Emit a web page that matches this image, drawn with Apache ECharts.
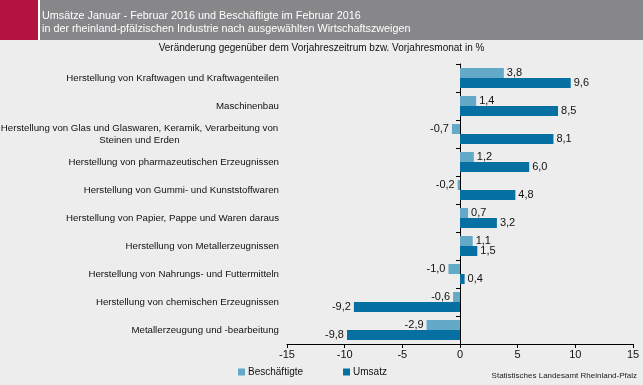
<!DOCTYPE html>
<html>
<head>
<meta charset="utf-8">
<script src="https://cdn.jsdelivr.net/npm/echarts@6/dist/echarts.min.js"></script>
<style>html,body{margin:0;padding:0;background:#ecedec;}#c{width:643px;height:385px;}</style>
</head>
<body>
<div id="c"></div>
<script>
const categories = [
  'Herstellung von Kraftwagen und Kraftwagenteilen',
  'Maschinenbau',
  'Herstellung von Glas und Glaswaren, Keramik, Verarbeitung von\nSteinen und Erden',
  'Herstellung von pharmazeutischen Erzeugnissen',
  'Herstellung von Gummi- und Kunststoffwaren',
  'Herstellung von Papier, Pappe und Waren daraus',
  'Herstellung von Metallerzeugnissen',
  'Herstellung von Nahrungs- und Futtermitteln',
  'Herstellung von chemischen Erzeugnissen',
  'Metallerzeugung und -bearbeitung'
];
const beschaeftigte = [3.8, 1.4, -0.7, 1.2, -0.2, 0.7, 1.1, -1.0, -0.6, -2.9];
const umsatz = [9.6, 8.5, 8.1, 6.0, 4.8, 3.2, 1.5, 0.4, -9.2, -9.8];
const xTicks = [-15, -10, -5, 0, 5, 10, 15];

const FONT = '"Liberation Sans", Arial, sans-serif';
const fmt = v => v.toFixed(1).replace('.', ',');
const toItems = arr => arr.map(v => ({ value: v, label: { position: v < 0 ? 'left' : 'right' } }));

const chart = echarts.init(document.getElementById('c'));
chart.setOption({
  backgroundColor: '#ecedec',
  animation: false,
  textStyle: { fontFamily: FONT },
  graphic: [
    { type: 'rect', shape: { x: 0, y: 0, width: 643, height: 40 }, style: { fill: '#878789' } },
    { type: 'rect', shape: { x: 0, y: 0, width: 38, height: 40 }, style: { fill: '#b5133f' } },
    { type: 'rect', shape: { x: 38, y: 0, width: 2, height: 40 }, style: { fill: '#ffffff' } },
    { type: 'text', left: 42, top: 10, style: { text: 'Umsätze Januar - Februar 2016 und Beschäftigte im Februar 2016\nin der rheinland-pfälzischen Industrie nach ausgewählten Wirtschaftszweigen', fill: '#ffffff', font: '10.8px ' + FONT, lineHeight: 13 } },
    { type: 'text', left: 'center', top: 43, style: { text: 'Veränderung gegenüber dem Vorjahreszeitrum bzw. Vorjahresmonat in %', fill: '#111', font: '10px ' + FONT } },
    { type: 'text', right: 6, top: 372, style: { text: 'Statistisches Landesamt Rheinland-Pfalz', fill: '#222', font: '8px ' + FONT } }
  ],
  legend: {
    left: 233, top: 362,
    itemWidth: 7, itemHeight: 7, itemGap: 40,
    icon: 'rect',
    textStyle: { fontSize: 10, color: '#111', padding: [0, 0, 0, -2] },
    data: ['Beschäftigte', 'Umsatz']
  },
  grid: { left: 287, right: 10, top: 64, bottom: 41, containLabel: false, outerBoundsMode: 'none' },
  xAxis: {
    type: 'value', min: -15, max: 15, interval: 5,
    axisLine: { show: true, onZero: false, lineStyle: { color: '#000', width: 1 } },
    axisTick: { show: true, length: 4, lineStyle: { color: '#000' } },
    axisLabel: { color: '#111', fontSize: 11, margin: 5, formatter: v => xTicks.includes(v) ? String(v) : '' },
    splitLine: { show: false }
  },
  yAxis: [
    {
      type: 'category', inverse: true, data: categories,
      axisLine: { show: true, onZero: true, lineStyle: { color: '#000', width: 1 } },
      axisTick: { show: true, length: 4, lineStyle: { color: '#000' } },
      axisLabel: {
        color: '#111', fontSize: 9.7, margin: 8, lineHeight: 12,
        formatter: v => v.indexOf('\n') >= 0 ? v.split('\n').map(s => '{g|' + s + '}').join('\n') : v,
        rich: { g: { width: 279, align: 'center', fontSize: 9.7, lineHeight: 12, color: '#111' } }
      },
      splitLine: { show: false }
    },
    {
      type: 'category', inverse: true, data: categories,
      axisLine: { show: false, onZero: true, onZeroAxisIndex: 0 },
      axisTick: { show: true, inside: true, length: 4, lineStyle: { color: '#000' } },
      axisLabel: { show: false },
      splitLine: { show: false }
    }
  ],
  series: [
    {
      name: 'Beschäftigte', type: 'bar', data: toItems(beschaeftigte),
      barWidth: 10, barGap: '0%', barCategoryGap: '28%',
      itemStyle: { color: '#63aac9' },
      label: { show: true, fontSize: 11, color: '#111', distance: 3, formatter: p => fmt(p.value) }
    },
    {
      name: 'Umsatz', type: 'bar', data: toItems(umsatz),
      barWidth: 10, barGap: '0%', barCategoryGap: '28%',
      itemStyle: { color: '#0770a3' },
      label: { show: true, fontSize: 11, color: '#111', distance: 3, formatter: p => fmt(p.value) }
    }
  ]
});
</script>
</body>
</html>
